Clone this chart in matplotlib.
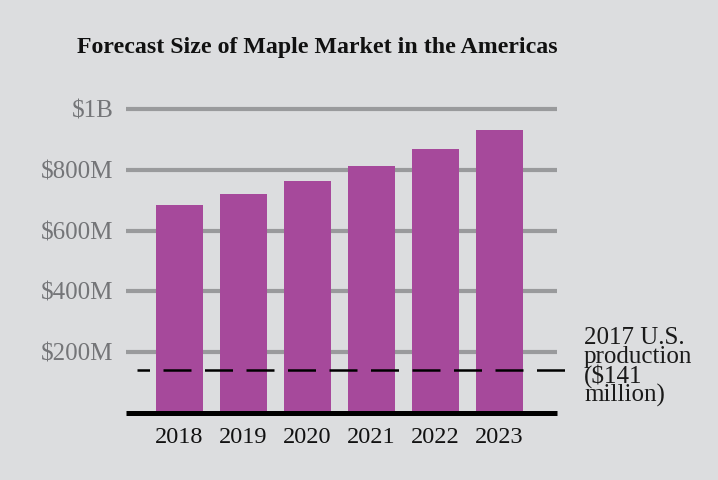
import matplotlib
matplotlib.use("Agg")
import matplotlib.pyplot as plt

years = ["2018", "2019", "2020", "2021", "2022", "2023"]
values = [684, 720, 763, 812, 868, 931]  # $ millions
yticks = [200, 400, 600, 800, 1000]
ytick_labels = ["$200M", "$400M", "$600M", "$800M", "$1B"]
ref_value = 141
ref_label = "2017 U.S.\nproduction\n($141\nmillion)"
title = "Forecast Size of Maple Market in the Americas"

BG = "#dcdddf"
BAR = "#a6499b"
GRID = "#999a9c"
W, H = 718, 480

plt.rcParams['font.family'] = ['Liberation Serif', 'DejaVu Serif']
fig = plt.figure(figsize=(W/100, H/100), dpi=100, facecolor=BG)
ax = fig.add_axes([126/W, 67/H, (557-126)/W, (413-109)/H])
ax.set_facecolor(BG)
for s in ax.spines.values():
    s.set_visible(False)

x = list(range(len(years)))
ax.set_xlim(-0.836, 5.90)
ax.set_ylim(0, 1000)

for t in yticks:
    ax.axhline(t, color=GRID, lw=3.0, zorder=1, clip_on=False, solid_capstyle='butt')
ax.axhline(0, color="black", lw=3.6, zorder=4, clip_on=False, solid_capstyle='butt')

ax.bar(x, values, width=0.734, color=BAR, zorder=2)

ax.plot([-0.664, 6.07], [ref_value, ref_value], color="black", lw=1.8,
        linestyle=(6.2, (11.2, 5.4)), zorder=5, clip_on=False)

ax.set_yticks(yticks)
ax.set_yticklabels(ytick_labels, color="#747578", fontsize=18)
ax.set_xticks(x)
ax.set_xticklabels(years, color="#111111", fontsize=17.5)
ax.tick_params(axis='both', length=0)
ax.tick_params(axis='y', pad=9)
ax.tick_params(axis='x', pad=10)

fig.text(584/W, 1-327/H, ref_label, ha="left", va="top", fontsize=18,
         color="#1a1a1a", linespacing=0.8)
fig.text(317/W, 1-47/H, title, ha="center", va="center", fontsize=17.2,
         fontweight="bold", color="#111111")

fig.savefig("out.png", dpi=100, facecolor=BG)
